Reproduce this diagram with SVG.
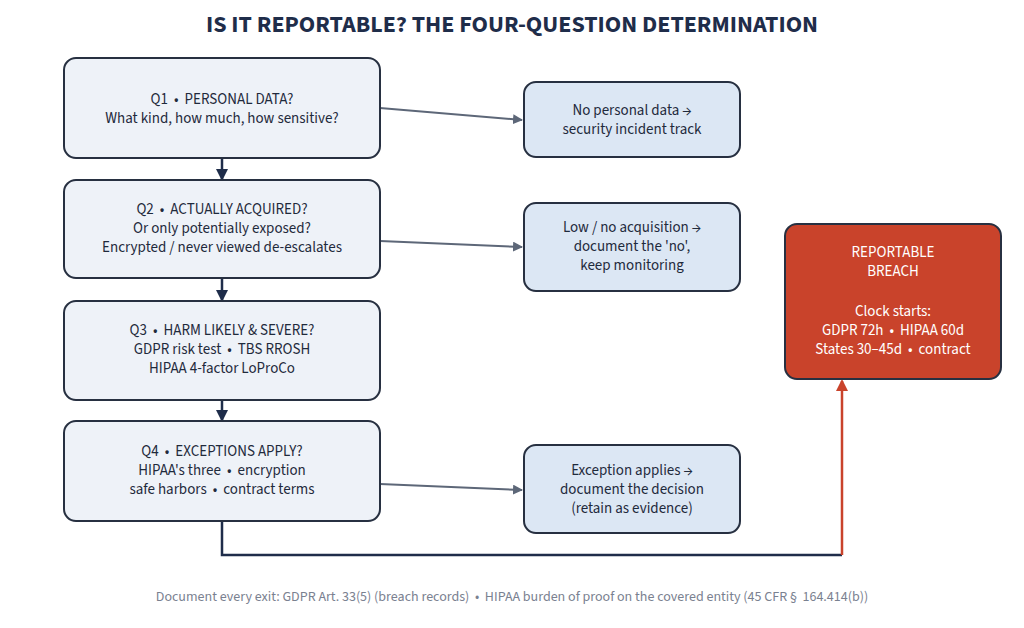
<svg xmlns="http://www.w3.org/2000/svg" width="1024" height="628" viewBox="0 0 1024 628">
<style>
text{font-family:"Source Sans 3","Noto Sans","Liberation Sans",sans-serif;text-anchor:middle;white-space:pre}
.q{fill:#eef2f8;stroke:#273041;stroke-width:2}
.o{fill:#dce7f4;stroke:#273041;stroke-width:2}
.t{font-size:15px;fill:#1f2a3c}
.w{font-size:15px;fill:#ffffff}
.g{stroke:#5d6778;stroke-width:2;fill:none}
.d{stroke:#1f2d4a;stroke-width:2.5;fill:none}
</style>
<defs>
<marker id="ag" markerWidth="10" markerHeight="10" refX="9" refY="5" orient="auto" markerUnits="userSpaceOnUse"><path d="M0,0L10,5L0,10z" fill="#5d6778"/></marker>
<marker id="ad" markerWidth="12" markerHeight="12" refX="10" refY="6" orient="auto" markerUnits="userSpaceOnUse"><path d="M0,0L12,6L0,12z" fill="#1f2d4a"/></marker>
<marker id="ar" markerWidth="12" markerHeight="12" refX="10" refY="6" orient="auto" markerUnits="userSpaceOnUse"><path d="M0,0L12,6L0,12z" fill="#c9432b"/></marker>
</defs>
<rect width="1024" height="628" fill="#fff"/>
<text x="512" y="32" style="font-size:24px;font-weight:bold;fill:#1f2d4a">IS IT REPORTABLE? THE FOUR-QUESTION DETERMINATION</text>
<g id="connectors">
<line class="g" x1="380" y1="108" x2="522" y2="120" marker-end="url(#ag)"/>
<line class="g" x1="380" y1="241" x2="522" y2="247" marker-end="url(#ag)"/>
<line class="g" x1="380" y1="484" x2="522" y2="490" marker-end="url(#ag)"/>
<line class="d" x1="222" y1="158" x2="222" y2="179" marker-end="url(#ad)"/>
<line class="d" x1="222" y1="278" x2="222" y2="300" marker-end="url(#ad)"/>
<line class="d" x1="222" y1="400" x2="222" y2="420" marker-end="url(#ad)"/>
<polyline class="d" points="222,521 222,555 842,555"/>
<line x1="842" y1="555" x2="842" y2="381" stroke="#c9432b" stroke-width="2.5" marker-end="url(#ar)"/>
</g>
<g id="q1"><rect class="q" x="64" y="58" width="316" height="100" rx="12"/>
<text class="t" x="222" y="104">Q1  •  PERSONAL DATA?</text><text class="t" x="222" y="123">What kind, how much, how sensitive?</text></g>
<g id="q2"><rect class="q" x="64" y="180" width="316" height="98" rx="12"/>
<text class="t" x="222" y="214">Q2  •  ACTUALLY ACQUIRED?</text><text class="t" x="222" y="233">Or only potentially exposed?</text><text class="t" x="222" y="252">Encrypted / never viewed de-escalates</text></g>
<g id="q3"><rect class="q" x="64" y="301" width="316" height="99" rx="12"/>
<text class="t" x="222" y="335">Q3  •  HARM LIKELY &amp; SEVERE?</text><text class="t" x="222" y="354">GDPR risk test  •  TBS RROSH</text><text class="t" x="222" y="373">HIPAA 4-factor LoProCo</text></g>
<g id="q4"><rect class="q" x="64" y="421" width="316" height="100" rx="12"/>
<text class="t" x="222" y="456">Q4  •  EXCEPTIONS APPLY?</text><text class="t" x="222" y="475">HIPAA's three  •  encryption</text><text class="t" x="222" y="494">safe harbors  •  contract terms</text></g>
<g id="o1"><rect class="o" x="524" y="82" width="216" height="75" rx="12"/>
<text class="t" x="632" y="115">No personal data →</text><text class="t" x="632" y="134">security incident track</text></g>
<g id="o2"><rect class="o" x="524" y="203" width="216" height="88" rx="12"/>
<text class="t" x="632" y="232">Low / no acquisition →</text><text class="t" x="632" y="251">document the 'no',</text><text class="t" x="632" y="270">keep monitoring</text></g>
<g id="o3"><rect class="o" x="524" y="445" width="216" height="88" rx="12"/>
<text class="t" x="632" y="475">Exception applies →</text><text class="t" x="632" y="494">document the decision</text><text class="t" x="632" y="513">(retain as evidence)</text></g>
<g id="breach"><rect x="785" y="224" width="216" height="155" rx="12" fill="#c9432b" stroke="#273041" stroke-width="2"/>
<text class="w" x="893" y="257">REPORTABLE</text><text class="w" x="893" y="276">BREACH</text>
<text class="w" x="893" y="316">Clock starts:</text><text class="w" x="893" y="335">GDPR 72h  •  HIPAA 60d</text><text class="w" x="893" y="354">States 30–45d  •  contract</text></g>
<text x="512" y="601" style="font-size:14px;fill:#7a8190">Document every exit: GDPR Art. 33(5) (breach records)  •  HIPAA burden of proof on the covered entity (45 CFR §  164.414(b))</text>
</svg>
